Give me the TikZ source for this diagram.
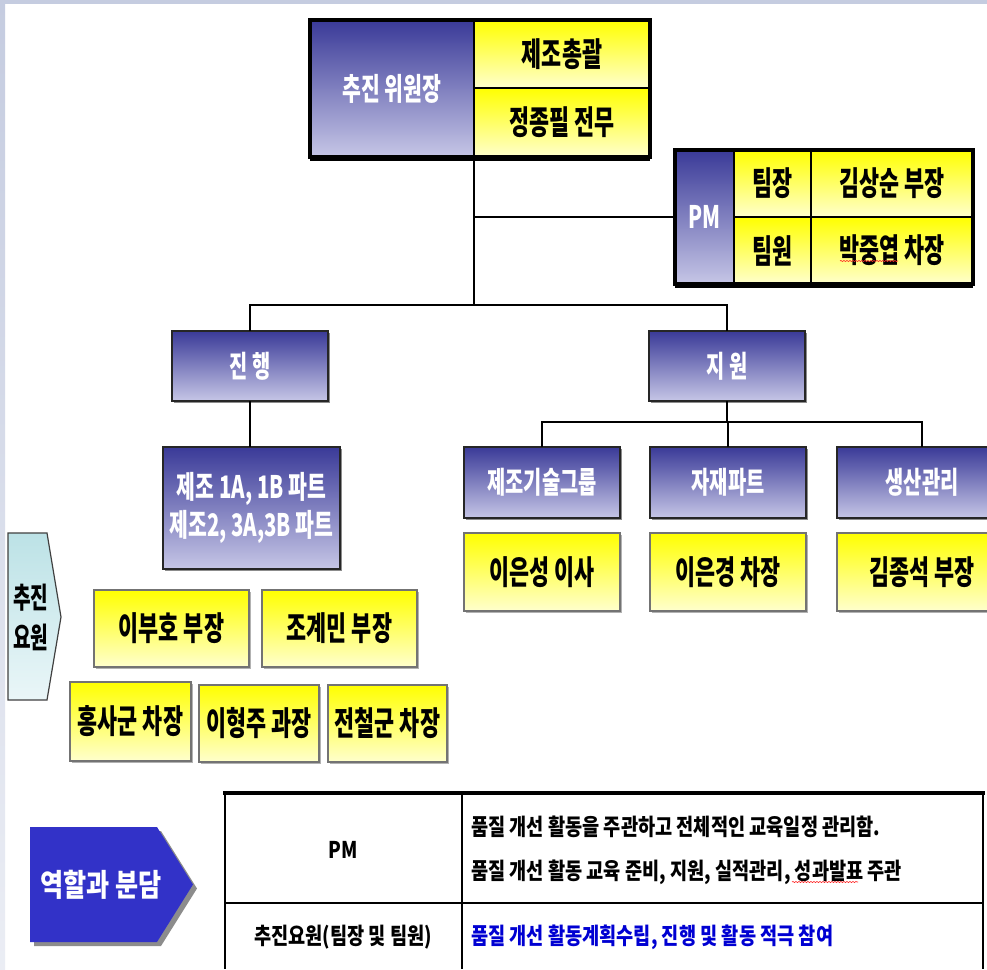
\documentclass[tikz,border=0pt]{standalone}
\usepackage{fontspec}
\newfontfamily\krA{Noto Sans CJK KR}[FakeStretch=0.66]
\newfontfamily\krB{Noto Sans CJK KR}[FakeStretch=0.81]
\usetikzlibrary{shadows,decorations.pathmorphing}
\definecolor{bluetop}{RGB}{58,58,152}
\definecolor{bluebot}{RGB}{198,198,230}
\definecolor{yeltop}{RGB}{255,255,0}
\definecolor{yelbot}{RGB}{255,255,205}
\definecolor{cyantop}{RGB}{188,226,230}
\definecolor{cyanbot}{RGB}{234,246,248}
\definecolor{rolefill}{RGB}{50,50,200}
\definecolor{edgebg}{RGB}{197,204,224}
\definecolor{txtblue}{RGB}{0,0,210}
\tikzset{
  box/.style={rectangle, inner sep=0pt, outer sep=0pt, align=center},
  wh/.style 2 args={minimum width=#1pt, minimum height=#2pt},
  bluebox/.style={box, top color=bluetop, bottom color=bluebot, text=white,
    draw=black!85, line width=1.8pt,
    font=\krA\bfseries\fontsize{30}{38}\selectfont},
  yelbox/.style={box, top color=yeltop, bottom color=yelbot, text=black,
    draw=black!55, line width=1.2pt,
    font=\krA\bfseries\fontsize{33}{38}\selectfont},
  shblue/.style={general shadow={fill=black!45, shadow xshift=1.5pt, shadow yshift=-1.5pt}},
  shyel/.style={general shadow={fill=black!30, shadow xshift=2pt, shadow yshift=-2pt}},
  conn/.style={draw=black, line width=2pt},
  tabtxt/.style={inner sep=0pt, font=\krB\bfseries\fontsize{23}{44}\selectfont},
}
\begin{document}
\begin{tikzpicture}[x=1pt,y=-1pt]
\useasboundingbox (0,0) rectangle (987,969);
\clip (0,0) rectangle (987,969);
\fill[white] (0,0) rectangle (987,969);
\fill[edgebg] (0,0) rectangle (987,4);
\shade[top color=edgebg, bottom color=edgebg!35] (0,0) rectangle (5,969);

% connector anchor coordinates
\coordinate (bus) at (0,305);
\coordinate (bus2) at (0,422);

% top committee box
\node[bluebox, wh={164}{137}, draw=black, line width=1.5pt, font=\krA\bfseries\fontsize{31}{38}\selectfont] (cm) at (392,88.5) {추진 위원장};
\node[yelbox, wh={176}{68}, draw=black, line width=1.5pt] (ca) at (562,54) {제조총괄};
\node[yelbox, wh={176}{69}, draw=black, line width=1.5pt] (cb) at (562,122.5) {정종필 전무};
\draw[line width=3.5pt] (cm.north west) rectangle (cb.south east);
\draw[line width=5pt] ([yshift=-1pt]cm.south west) -- ([yshift=-1pt]cb.south east);

% PM box
\node[bluebox, wh={59}{134}, draw=black, line width=1.5pt, font=\krA\bfseries\fontsize{31}{38}\selectfont] (pm) at (704.5,217) {PM};
\node[yelbox, wh={77}{67}, draw=black, line width=1.5pt] (pa1) at (772.5,183.5) {팀장};
\node[yelbox, wh={162}{67}, draw=black, line width=1.5pt] (pa2) at (892,183.5) {김상순 부장};
\node[yelbox, wh={77}{67}, draw=black, line width=1.5pt] (pb1) at (772.5,250.5) {팀원};
\node[yelbox, wh={162}{67}, draw=black, line width=1.5pt] (pb2) at (892,250.5) {박중엽 차장};
\draw[line width=3.5pt] (pm.north west) rectangle (pb2.south east);
\draw[line width=5pt] ([yshift=-1pt]pm.south west) -- ([yshift=-1pt]pb2.south east);
\draw[red!85, line width=0.6pt, decorate, decoration={snake, amplitude=0.6pt, segment length=3pt}] (840,261) -- (898,261);

% second level
\node[bluebox, shblue, wh={156}{70}] (jh) at (250,366) {진 행};
\node[bluebox, shblue, wh={156}{70}] (jw) at (727,366) {지 원};

% progress part
\node[bluebox, shblue, wh={177}{122}, font=\krA\bfseries\fontsize{31}{38}\selectfont] (jz) at (251.5,508) {제조 1A, 1B 파트\\제조2, 3A,3B 파트};

% support parts
\node[bluebox, shblue, wh={156}{71}] (g1) at (542,482.5) {제조기술그룹};
\node[bluebox, shblue, wh={156}{71}] (g2) at (728,482.5) {자재파트};
\node[bluebox, shblue, wh={170}{71}] (g3) at (922,482.5) {생산관리};
\node[yelbox, shyel, wh={156}{78}] (y1) at (542,572) {이은성 이사};
\node[yelbox, shyel, wh={156}{78}] (y2) at (728,572) {이은경 차장};
\node[yelbox, shyel, wh={170}{78}] (y3) at (922,572) {김종석 부장};

% members
\node[yelbox, shyel, wh={155}{77}] (l1) at (171.5,628.5) {이부호 부장};
\node[yelbox, shyel, wh={155}{77}] (l2) at (339.5,628.5) {조계민 부장};
\node[yelbox, shyel, wh={121}{79}] (l3) at (130.5,721.5) {홍사군 차장};
\node[yelbox, shyel, wh={120}{77}] (l4) at (259,723.5) {이형주 과장};
\node[yelbox, shyel, wh={119}{77}] (l5) at (387.5,723.5) {전철군 차장};

% 추진요원 arrow
\shade[top color=cyantop, bottom color=cyanbot, draw=black!75, line width=1.2pt]
  (8,533) -- (47,533) -- (61,617) -- (47,700) -- (8,700) -- cycle;
\node[box, font=\krA\bfseries\fontsize{29}{40}\selectfont] (cy) at (31,617) {추진\\요원};

% connectors
\draw[conn] (cb.south west) -- (cb.south west |- bus);
\draw[conn] (cb.south west |- pm.west) -- (pm.west);
\draw[conn] (jh.north) -- (jh.north |- bus) -- (jw.north |- bus) -- (jw.north);
\draw[conn] (jh.south) -- (jh.south |- jz.north);
\draw[conn] (jw.south) -- (jw.south |- bus2);
\draw[conn] (g1.north) -- (g1.north |- bus2) -- (g3.north |- bus2) -- (g3.north);
\draw[conn] (g2.north) -- (g2.north |- bus2);

% role arrow
\fill[black!45] (34,831) -- (161,831) -- (197,888.5) -- (161,946) -- (34,946) -- cycle;
\fill[rolefill] (30,827) -- (157,827) -- (193,884.5) -- (157,942) -- (30,942) -- cycle;
\node[box, text=white, font=\krB\bfseries\fontsize{31}{38}\selectfont] (ro) at (101,884.5) {역할과 분담};

% table
\draw[line width=1.8pt] (225,793) -- (225,969);
\draw[line width=1.8pt] (462,793) -- (462,969);
\draw[line width=1.8pt] (983,793) -- (983,969);
\draw[line width=1.5pt] (225,903) -- (983,903);
\draw[line width=3.5pt] (223,793) -- (985,793);
\node[tabtxt] (tp) at (343,850) {PM};
\node[tabtxt] (tr) at (343,937) {추진요원(팀장 및 팀원)};
\node[tabtxt, anchor=west, align=left] (td) at (471,850) {품질 개선 활동을 주관하고 전체적인 교육일정 관리함.\\품질 개선 활동 교육 준비, 지원, 실적관리, 성과발표 주관};
\node[tabtxt, anchor=west, text=txtblue] (tm) at (471,937) {품질 개선 활동계획수립, 진행 및 활동 적극 참여};
\draw[red!85, line width=0.6pt, decorate, decoration={snake, amplitude=0.6pt, segment length=3pt}] (792,882) -- (858,882);
\end{tikzpicture}
\end{document}
